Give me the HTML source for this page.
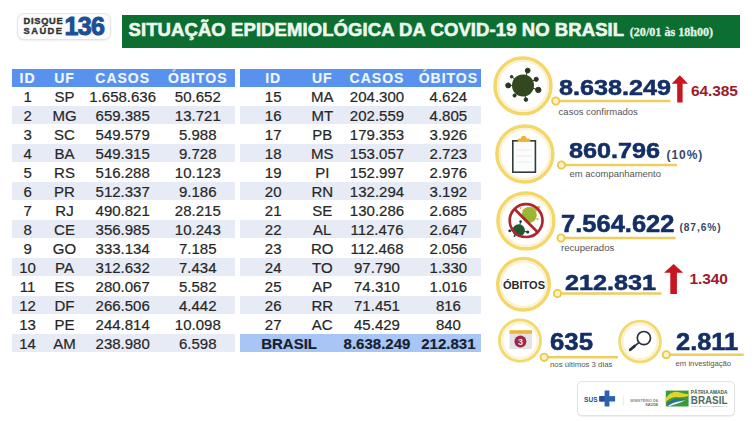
<!DOCTYPE html>
<html><head><meta charset="utf-8">
<style>
*{margin:0;padding:0;box-sizing:border-box}
html,body{width:754px;height:422px;overflow:hidden;background:#fff}
body{position:relative;font-family:"Liberation Sans",sans-serif;color:#2a2a2a}
.a{position:absolute;white-space:nowrap}
/* logo */
#logo{left:17px;top:13px;width:94px;height:27px;border:1px solid #e4e4e4;border-radius:7px;background:#fcfcfc;box-shadow:0 1px 2px rgba(0,0,0,.08)}
#green{left:122px;top:15px;width:618px;height:32.5px;background:#0c6e31}
#title{left:128.6px;top:19.1px;font:bold 18.5px "Liberation Sans",sans-serif;color:#eef8ee;letter-spacing:0.08px;-webkit-text-stroke:0.6px #eef8ee}
#date{left:629.8px;top:24.7px;font:bold 12.1px "Liberation Serif",serif;color:#e2f2e6;-webkit-text-stroke:0.3px #e2f2e6}
/* tables */
.tbl{position:absolute;top:68.5px}
.hdr{position:absolute;left:0;top:0;height:18px;background:#5892ee}
.row{position:absolute;left:0;height:19px}
.row.s{background:linear-gradient(#e7ebf6 0,#e7ebf6 18px,transparent 18px)}
.row.b{background:linear-gradient(#a7c6f6 0,#a7c6f6 18.2px,transparent 18.2px)}
.c{position:absolute;top:0;text-align:center;font-size:15px;line-height:19px;color:#262626;-webkit-text-stroke:0.2px #262626}
.h .c{font-weight:bold;font-size:14px;letter-spacing:1px;color:#f2f6ff;line-height:18px;top:0;-webkit-text-stroke:0.15px #f2f6ff}
/* stats */
.num{position:absolute;white-space:nowrap;font-weight:bold;font-size:22.6px;color:#142e66;-webkit-text-stroke:0.55px #142e66;transform-origin:0 0;transform:scaleX(1.115)}
.lab{position:absolute;white-space:nowrap;font-size:9.5px;color:#555}
.red{position:absolute;white-space:nowrap;font-weight:bold;font-size:15.5px;color:#9c1b29;letter-spacing:-0.1px}
.pct{position:absolute;white-space:nowrap;font-weight:bold;font-size:11px;letter-spacing:0.5px;color:#374869}
</style></head><body>

<div id="logo" class="a"></div>
<div class="a" style="left:23.6px;top:17.4px;font:bold 9.3px 'Liberation Sans',sans-serif;line-height:9.9px;color:#333;-webkit-text-stroke:0.4px #333"><span style="letter-spacing:0.68px">DISQUE</span><br><span style="letter-spacing:1.45px">SAÚDE</span></div>
<div class="a" style="left:64.6px;top:11.9px;font:bold 25px 'Liberation Sans',sans-serif;color:#1d4f93;letter-spacing:-0.7px;-webkit-text-stroke:1px #1d4f93">136</div>

<div id="green" class="a"></div>
<div id="title" class="a">SITUAÇÃO EPIDEMIOLÓGICA DA COVID-19 NO BRASIL</div>
<div id="date" class="a">(20/01 às 18h00)</div>

<!-- LEFT TABLE -->
<div class="tbl" style="left:11.5px;width:223.5px">
  <div class="hdr h" style="width:223.5px">
    <div class="c" style="left:0;width:32.2px">ID</div>
    <div class="c" style="left:32.2px;width:41.6px">UF</div>
    <div class="c" style="left:73.8px;width:74.8px">CASOS</div>
    <div class="c" style="left:148.6px;width:75.4px">ÓBITOS</div>
  </div>
</div>

<!-- RIGHT TABLE -->
<div class="tbl" style="left:240px;width:241px">
  <div class="hdr h" style="width:241px">
    <div class="c" style="left:0;width:66.4px">ID</div>
    <div class="c" style="left:66.4px;width:31.8px">UF</div>
    <div class="c" style="left:98.2px;width:77.6px">CASOS</div>
    <div class="c" style="left:175.8px;width:65.2px">ÓBITOS</div>
  </div>
</div>

<!--ROWS-->
<div class="row a" style="left:11.5px;top:87.0px;width:223.5px">
<div class="c" style="left:0px;width:32.2px">1</div>
<div class="c" style="left:32.2px;width:41.6px">SP</div>
<div class="c" style="left:73.8px;width:74.8px">1.658.636</div>
<div class="c" style="left:148.6px;width:75.4px">50.652</div>
</div>
<div class="row s a" style="left:11.5px;top:106.0px;width:223.5px">
<div class="c" style="left:0px;width:32.2px">2</div>
<div class="c" style="left:32.2px;width:41.6px">MG</div>
<div class="c" style="left:73.8px;width:74.8px">659.385</div>
<div class="c" style="left:148.6px;width:75.4px">13.721</div>
</div>
<div class="row a" style="left:11.5px;top:125.0px;width:223.5px">
<div class="c" style="left:0px;width:32.2px">3</div>
<div class="c" style="left:32.2px;width:41.6px">SC</div>
<div class="c" style="left:73.8px;width:74.8px">549.579</div>
<div class="c" style="left:148.6px;width:75.4px">5.988</div>
</div>
<div class="row s a" style="left:11.5px;top:144.0px;width:223.5px">
<div class="c" style="left:0px;width:32.2px">4</div>
<div class="c" style="left:32.2px;width:41.6px">BA</div>
<div class="c" style="left:73.8px;width:74.8px">549.315</div>
<div class="c" style="left:148.6px;width:75.4px">9.728</div>
</div>
<div class="row a" style="left:11.5px;top:163.0px;width:223.5px">
<div class="c" style="left:0px;width:32.2px">5</div>
<div class="c" style="left:32.2px;width:41.6px">RS</div>
<div class="c" style="left:73.8px;width:74.8px">516.288</div>
<div class="c" style="left:148.6px;width:75.4px">10.123</div>
</div>
<div class="row s a" style="left:11.5px;top:182.0px;width:223.5px">
<div class="c" style="left:0px;width:32.2px">6</div>
<div class="c" style="left:32.2px;width:41.6px">PR</div>
<div class="c" style="left:73.8px;width:74.8px">512.337</div>
<div class="c" style="left:148.6px;width:75.4px">9.186</div>
</div>
<div class="row a" style="left:11.5px;top:201.0px;width:223.5px">
<div class="c" style="left:0px;width:32.2px">7</div>
<div class="c" style="left:32.2px;width:41.6px">RJ</div>
<div class="c" style="left:73.8px;width:74.8px">490.821</div>
<div class="c" style="left:148.6px;width:75.4px">28.215</div>
</div>
<div class="row s a" style="left:11.5px;top:220.0px;width:223.5px">
<div class="c" style="left:0px;width:32.2px">8</div>
<div class="c" style="left:32.2px;width:41.6px">CE</div>
<div class="c" style="left:73.8px;width:74.8px">356.985</div>
<div class="c" style="left:148.6px;width:75.4px">10.243</div>
</div>
<div class="row a" style="left:11.5px;top:239.0px;width:223.5px">
<div class="c" style="left:0px;width:32.2px">9</div>
<div class="c" style="left:32.2px;width:41.6px">GO</div>
<div class="c" style="left:73.8px;width:74.8px">333.134</div>
<div class="c" style="left:148.6px;width:75.4px">7.185</div>
</div>
<div class="row s a" style="left:11.5px;top:258.0px;width:223.5px">
<div class="c" style="left:0px;width:32.2px">10</div>
<div class="c" style="left:32.2px;width:41.6px">PA</div>
<div class="c" style="left:73.8px;width:74.8px">312.632</div>
<div class="c" style="left:148.6px;width:75.4px">7.434</div>
</div>
<div class="row a" style="left:11.5px;top:277.0px;width:223.5px">
<div class="c" style="left:0px;width:32.2px">11</div>
<div class="c" style="left:32.2px;width:41.6px">ES</div>
<div class="c" style="left:73.8px;width:74.8px">280.067</div>
<div class="c" style="left:148.6px;width:75.4px">5.582</div>
</div>
<div class="row s a" style="left:11.5px;top:296.0px;width:223.5px">
<div class="c" style="left:0px;width:32.2px">12</div>
<div class="c" style="left:32.2px;width:41.6px">DF</div>
<div class="c" style="left:73.8px;width:74.8px">266.506</div>
<div class="c" style="left:148.6px;width:75.4px">4.442</div>
</div>
<div class="row a" style="left:11.5px;top:315.0px;width:223.5px">
<div class="c" style="left:0px;width:32.2px">13</div>
<div class="c" style="left:32.2px;width:41.6px">PE</div>
<div class="c" style="left:73.8px;width:74.8px">244.814</div>
<div class="c" style="left:148.6px;width:75.4px">10.098</div>
</div>
<div class="row s a" style="left:11.5px;top:334.0px;width:223.5px">
<div class="c" style="left:0px;width:32.2px">14</div>
<div class="c" style="left:32.2px;width:41.6px">AM</div>
<div class="c" style="left:73.8px;width:74.8px">238.980</div>
<div class="c" style="left:148.6px;width:75.4px">6.598</div>
</div>
<div class="row a" style="left:240px;top:87.0px;width:241px">
<div class="c" style="left:0px;width:66.4px">15</div>
<div class="c" style="left:66.4px;width:31.8px">MA</div>
<div class="c" style="left:98.2px;width:77.6px">204.300</div>
<div class="c" style="left:175.8px;width:65.2px">4.624</div>
</div>
<div class="row s a" style="left:240px;top:106.0px;width:241px">
<div class="c" style="left:0px;width:66.4px">16</div>
<div class="c" style="left:66.4px;width:31.8px">MT</div>
<div class="c" style="left:98.2px;width:77.6px">202.559</div>
<div class="c" style="left:175.8px;width:65.2px">4.805</div>
</div>
<div class="row a" style="left:240px;top:125.0px;width:241px">
<div class="c" style="left:0px;width:66.4px">17</div>
<div class="c" style="left:66.4px;width:31.8px">PB</div>
<div class="c" style="left:98.2px;width:77.6px">179.353</div>
<div class="c" style="left:175.8px;width:65.2px">3.926</div>
</div>
<div class="row s a" style="left:240px;top:144.0px;width:241px">
<div class="c" style="left:0px;width:66.4px">18</div>
<div class="c" style="left:66.4px;width:31.8px">MS</div>
<div class="c" style="left:98.2px;width:77.6px">153.057</div>
<div class="c" style="left:175.8px;width:65.2px">2.723</div>
</div>
<div class="row a" style="left:240px;top:163.0px;width:241px">
<div class="c" style="left:0px;width:66.4px">19</div>
<div class="c" style="left:66.4px;width:31.8px">PI</div>
<div class="c" style="left:98.2px;width:77.6px">152.997</div>
<div class="c" style="left:175.8px;width:65.2px">2.976</div>
</div>
<div class="row s a" style="left:240px;top:182.0px;width:241px">
<div class="c" style="left:0px;width:66.4px">20</div>
<div class="c" style="left:66.4px;width:31.8px">RN</div>
<div class="c" style="left:98.2px;width:77.6px">132.294</div>
<div class="c" style="left:175.8px;width:65.2px">3.192</div>
</div>
<div class="row a" style="left:240px;top:201.0px;width:241px">
<div class="c" style="left:0px;width:66.4px">21</div>
<div class="c" style="left:66.4px;width:31.8px">SE</div>
<div class="c" style="left:98.2px;width:77.6px">130.286</div>
<div class="c" style="left:175.8px;width:65.2px">2.685</div>
</div>
<div class="row s a" style="left:240px;top:220.0px;width:241px">
<div class="c" style="left:0px;width:66.4px">22</div>
<div class="c" style="left:66.4px;width:31.8px">AL</div>
<div class="c" style="left:98.2px;width:77.6px">112.476</div>
<div class="c" style="left:175.8px;width:65.2px">2.647</div>
</div>
<div class="row a" style="left:240px;top:239.0px;width:241px">
<div class="c" style="left:0px;width:66.4px">23</div>
<div class="c" style="left:66.4px;width:31.8px">RO</div>
<div class="c" style="left:98.2px;width:77.6px">112.468</div>
<div class="c" style="left:175.8px;width:65.2px">2.056</div>
</div>
<div class="row s a" style="left:240px;top:258.0px;width:241px">
<div class="c" style="left:0px;width:66.4px">24</div>
<div class="c" style="left:66.4px;width:31.8px">TO</div>
<div class="c" style="left:98.2px;width:77.6px">97.790</div>
<div class="c" style="left:175.8px;width:65.2px">1.330</div>
</div>
<div class="row a" style="left:240px;top:277.0px;width:241px">
<div class="c" style="left:0px;width:66.4px">25</div>
<div class="c" style="left:66.4px;width:31.8px">AP</div>
<div class="c" style="left:98.2px;width:77.6px">74.310</div>
<div class="c" style="left:175.8px;width:65.2px">1.016</div>
</div>
<div class="row s a" style="left:240px;top:296.0px;width:241px">
<div class="c" style="left:0px;width:66.4px">26</div>
<div class="c" style="left:66.4px;width:31.8px">RR</div>
<div class="c" style="left:98.2px;width:77.6px">71.451</div>
<div class="c" style="left:175.8px;width:65.2px">816</div>
</div>
<div class="row a" style="left:240px;top:315.0px;width:241px">
<div class="c" style="left:0px;width:66.4px">27</div>
<div class="c" style="left:66.4px;width:31.8px">AC</div>
<div class="c" style="left:98.2px;width:77.6px">45.429</div>
<div class="c" style="left:175.8px;width:65.2px">840</div>
</div>
<div class="row b a" style="left:240px;top:334.0px;width:241px">
<div class="c" style="left:0;width:98.2px;font-weight:bold;color:#161e32">BRASIL</div>
<div class="c" style="left:98.2px;width:77.6px;font-weight:bold;color:#161e32">8.638.249</div>
<div class="c" style="left:175.8px;width:65.2px;font-weight:bold;color:#161e32">212.831</div>
</div>
<!--/ROWS-->

<!-- STATS -->

<div class="num" style="left:558.5px;top:74.8px">8.638.249</div>
<div class="lab" style="left:558.6px;top:105.6px">casos confirmados</div>
<div class="red" style="left:691px;top:82px">64.385</div>

<div class="num" style="left:568.5px;top:138.3px">860.796</div>
<div class="pct" style="left:666.5px;top:147.6px;font-size:12px;letter-spacing:0.95px">(10%)</div>
<div class="lab" style="left:569.6px;top:168.3px;font-size:9.45px">em acompanhamento</div>

<div class="num" style="left:560.8px;top:210.5px;font-size:23.5px;transform:scaleX(1.085)">7.564.622</div>
<div class="pct" style="left:679.4px;top:222.3px;font-size:10.2px;letter-spacing:0.95px">(87,6%)</div>
<div class="lab" style="left:561px;top:242px;font-size:9.6px">recuperados</div>

<div class="a" style="left:503px;top:279px;font:bold 11px 'Liberation Sans',sans-serif;color:#2a2a2a">ÓBITOS</div>
<div class="num" style="left:564.5px;top:269.8px">212.831</div>
<div class="red" style="left:689.5px;top:270px">1.340</div>

<div class="num" style="left:550.3px;top:329px;font-size:23px;transform:scaleX(1.12)">635</div>
<div class="lab" style="left:550px;top:360.2px;font-size:7.8px;letter-spacing:0">nos últimos 3 dias</div>

<div class="num" style="left:675.5px;top:329px;font-size:23px;transform:scaleX(1.105)">2.811</div>
<div class="lab" style="left:675.6px;top:358.6px;font-size:7.7px;letter-spacing:0">em investigação</div>

<!--SVG-->
<svg class="a" style="left:0;top:0" width="754" height="422" viewBox="0 0 754 422">
<defs>
<filter id="sf" x="-10%" y="-10%" width="120%" height="120%"><feGaussianBlur stdDeviation="0.45"/></filter>
</defs>
<g fill="none">
<g filter="url(#sf)">
<circle cx="523" cy="85.9" r="27.95" stroke="#f3d76a" stroke-width="3.5"/>
<circle cx="524.9" cy="154" r="27.95" stroke="#f3d76a" stroke-width="3.5"/>
<circle cx="525.9" cy="220.9" r="27.95" stroke="#f3d76a" stroke-width="3.5"/>
<circle cx="523.5" cy="284.2" r="25.75" stroke="#f3d76a" stroke-width="3.5"/>
<circle cx="520" cy="340.6" r="20.55" stroke="#f1da6e" stroke-width="2.9"/>
<circle cx="640" cy="341.5" r="20.35" stroke="#f1da6e" stroke-width="2.9"/>
</g>
<g stroke="#fcf2cf" stroke-width="2.2">
<circle cx="523" cy="85.9" r="25.00"/>
<circle cx="524.9" cy="154" r="25.00"/>
<circle cx="525.9" cy="220.9" r="25.00"/>
<circle cx="523.5" cy="284.2" r="22.80"/>
<circle cx="520" cy="340.6" r="17.80"/>
<circle cx="640" cy="341.5" r="17.60"/>
</g>
</g>
<!-- connector lines -->
<g fill="#efcd5e">
<rect x="557.7" y="99.75" width="112.7" height="2.5"/>
<rect x="563.4" y="163.75" width="113.6" height="2.5"/>
<rect x="563.0" y="236.75" width="112.7" height="2.5"/>
<rect x="559.5" y="292.25" width="102.1" height="2.5"/>
<rect x="546.2" y="355.95" width="71.8" height="2.5"/>
<rect x="668.3" y="353.45" width="75.4" height="2.5"/>
</g>
<g fill="#fdf4c6" stroke="#ebc84a" stroke-width="1.9">
<circle cx="555.7" cy="101.0" r="3.6"/>
<circle cx="561.4" cy="165.0" r="3.6"/>
<circle cx="561.0" cy="238.0" r="3.6"/>
<circle cx="557.5" cy="293.5" r="3.6"/>
<circle cx="544.2" cy="357.2" r="3.6"/>
<circle cx="666.3" cy="354.7" r="3.6"/>
</g>
<!-- virus -->
<g fill="#2b3524" stroke="#2b3524" stroke-width="1">
<line x1="523" y1="85.4" x2="527.7" y2="70.1"/><circle cx="527.7" cy="70.6" r="2.4"/>
<line x1="523" y1="85.4" x2="536.2" y2="79.3"/><circle cx="536.2" cy="79.3" r="2.1"/>
<line x1="523" y1="85.4" x2="538.5" y2="89.9"/><circle cx="538.3" cy="89.9" r="2.7"/>
<line x1="523" y1="85.4" x2="525.9" y2="99.8"/><circle cx="525.9" cy="99.6" r="1.8"/>
<line x1="523" y1="85.4" x2="514.6" y2="95.7"/><circle cx="514.6" cy="95.5" r="1.6"/>
<line x1="523" y1="85.4" x2="507.9" y2="85.4"/><circle cx="508.2" cy="85.4" r="2.5"/>
<line x1="523" y1="85.4" x2="511.5" y2="76.6"/><circle cx="511.6" cy="76.7" r="1.3"/>
</g>
<circle cx="523" cy="85.4" r="11" fill="#33481f"/>
<!-- clipboard -->
<rect x="512.8" y="140.8" width="22.6" height="31.4" fill="#fbfcfc" stroke="#2f3d36" stroke-width="1.6"/>
<g fill="#f3f2f7"><rect x="516" y="149" width="16" height="2"/><rect x="516" y="155" width="16" height="2"/><rect x="516" y="161" width="16" height="2"/></g>
<path d="M517.7 142 L517.7 139.6 Q517.7 138.4 519 138.4 L520.8 138.4 Q521.2 135.7 523.7 135.7 Q526.2 135.7 526.6 138.4 L528.8 138.4 Q530.2 138.4 530.2 139.6 L530.2 142 Z" fill="#ecb535"/>
<!-- recovered (prohibition) -->
<g>
<circle cx="529.2" cy="215.1" r="7.6" fill="#98b734"/>
<path d="M522.5 211 Q526 206.8 531 207.3 Q535 208 536.6 211.5" fill="none" stroke="#c9a544" stroke-width="1.2"/>
<g fill="#cfa445"><circle cx="538.5" cy="207.2" r="1.5"/><circle cx="537.5" cy="219" r="1.1"/><circle cx="520.5" cy="208" r="0.9"/></g>
<g stroke="#223a32" stroke-width="1"><line x1="518.7" y1="230.4" x2="527.7" y2="232"/><line x1="518.7" y1="230.4" x2="509.7" y2="230.8"/><line x1="518.7" y1="230.4" x2="520.6" y2="221.6"/></g>
<g fill="#22333a"><circle cx="527.7" cy="232" r="1.6"/><circle cx="509.7" cy="230.8" r="1.4"/><circle cx="520.6" cy="221.6" r="1.3"/><circle cx="514.5" cy="236" r="0.9"/></g>
<circle cx="518.7" cy="230.4" r="6.2" fill="#1e5a2b"/>
<circle cx="526.1" cy="220.6" r="16.4" fill="none" stroke="#ad262d" stroke-width="2.7"/>
<line x1="514.5" y1="209" x2="537.7" y2="232.2" stroke="#ad262d" stroke-width="2.7"/>
</g>
<!-- calendar -->
<rect x="509.5" y="333.5" width="22.5" height="15.5" fill="#e6e2e4"/>
<rect x="509.5" y="330.2" width="22.5" height="3.6" fill="#eab636"/>
<circle cx="520.4" cy="341.4" r="6" fill="#982b4b"/>
<text x="520.4" y="344.6" font-family="Liberation Sans" font-weight="bold" font-size="9" fill="#f4dfe6" text-anchor="middle">3</text>
<!-- magnifier -->
<circle cx="643.9" cy="338.1" r="6.6" fill="none" stroke="#2a3039" stroke-width="1.7"/>
<line x1="638.8" y1="342.6" x2="634" y2="346.6" stroke="#2a3039" stroke-width="1.8"/>
<line x1="634.6" y1="346.1" x2="630.2" y2="349.8" stroke="#2a3039" stroke-width="2.8" stroke-linecap="round"/>
<!-- arrows -->
<path d="M679.8 75.3 L688 83.8 L682.6 83.8 L682.6 102.6 L677.2 102.6 L677.2 83.8 L671.7 83.8 Z" fill="#c8151f"/>
<path d="M673.6 263.9 L683.2 272.8 L676.9 272.8 L676.9 294 L670.3 294 L670.3 272.8 L664.1 272.8 Z" fill="#c8151f"/>
</svg>
<!--/SVG-->
<!-- footer logos -->
<div class="a" style="left:577.3px;top:380.5px;width:157.5px;height:35.5px;border:1px solid #e3e3e3;border-radius:5px;background:#fff;box-shadow:0 1px 1.5px rgba(0,0,0,.07)"></div>
<svg class="a" style="left:0;top:0" width="754" height="422" viewBox="0 0 754 422">
<text x="584.1" y="402" font-family="Liberation Sans" font-weight="bold" font-size="8" fill="#234f8c" textLength="13.4" lengthAdjust="spacingAndGlyphs">SUS</text>
<rect x="604.6" y="390.5" width="4.8" height="16" fill="#2b62ad"/>
<rect x="599.3" y="396.1" width="15.8" height="5.4" fill="#2b62ad"/>
<rect x="599.3" y="396.1" width="5.3" height="5.4" fill="#1f4f95"/>
<rect x="622.8" y="395.5" width="0.8" height="10.2" fill="#e4e4e4"/>
<text x="658.3" y="401.6" font-family="Liberation Sans" font-weight="bold" font-size="3.8" fill="#8a8a8a" text-anchor="end" textLength="28" lengthAdjust="spacingAndGlyphs">MINISTÉRIO DA</text>
<text x="658.3" y="406.4" font-family="Liberation Sans" font-weight="bold" font-size="4.2" fill="#6a6a6a" text-anchor="end" textLength="13" lengthAdjust="spacingAndGlyphs">SAÚDE</text>
<rect x="665.8" y="390.6" width="22.8" height="15.9" fill="#3b9a3c"/>
<path d="M665.8 398 Q672 389.5 680 392.5 Q685 394.5 688.6 393.8 L688.6 396 Q682 398 676 397 Q670 397.5 665.8 402 Z" fill="#e2d42a"/>
<path d="M667 404 Q672 398.5 681 398.8 Q684 399 686 399.5 Q680 401 674 402.5 Q670 403.8 668 406 Z" fill="#2a6fa8"/>
<path d="M668 406 Q672 402.8 679 401.5 Q683 400.8 686 399.5 Q682 402.5 676 404 Q671 405.2 669 406.5 Z" fill="#f4f4f4"/>
<text x="690.8" y="393.9" font-family="Liberation Sans" font-weight="bold" font-size="4.5" fill="#345a4c" textLength="36.6" lengthAdjust="spacingAndGlyphs">PÁTRIA AMADA</text>
<text x="690.8" y="403.7" font-family="Liberation Sans" font-weight="bold" font-size="11" fill="#4f6d64" textLength="36.6" lengthAdjust="spacingAndGlyphs">BRASIL</text>
<text x="690.8" y="406.6" font-family="Liberation Sans" font-size="2.2" fill="#9aa8a2" textLength="36.6" lengthAdjust="spacingAndGlyphs">GOVERNO FEDERAL</text>
</svg>

</body></html>
